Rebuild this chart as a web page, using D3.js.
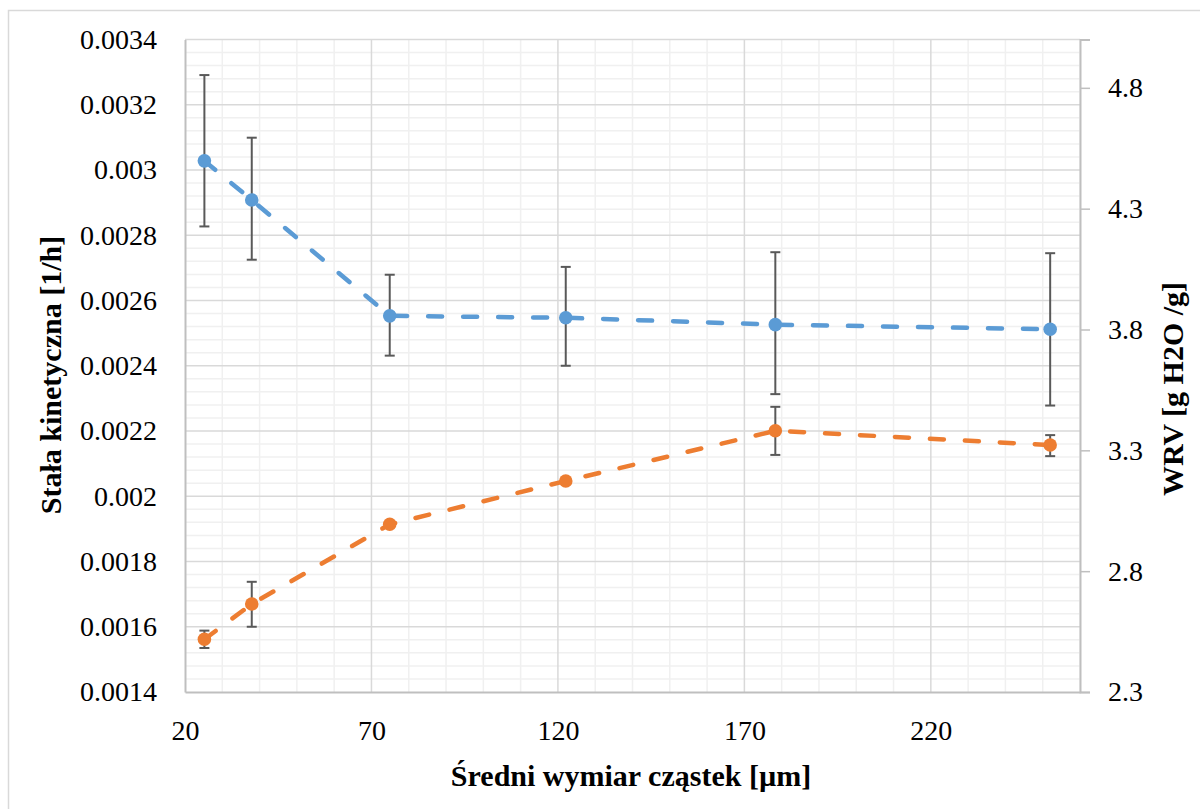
<!DOCTYPE html>
<html>
<head>
<meta charset="utf-8">
<script src="https://cdn.jsdelivr.net/npm/d3@7"></script>
<style>
    body { margin: 0; background: #fff; }
</style>
</head>
<body>
<div id="vis"></div>
<script>

// particle size [um]
const sizes = [25.2, 37.9, 74.9, 122.1, 178.3, 252];

// kinetic constant (left axis), with error bar ends
const kinetic = [0.003028, 0.002908, 0.002553, 0.002547, 0.002526, 0.002512];
const kineticHigh = [0.003291, 0.003099, 0.002679, 0.002703, 0.002748, 0.002745];
const kineticLow = [0.002827, 0.002725, 0.002431, 0.0024, 0.002313, 0.002278];

// WRV (right axis), with error bar ends (none on 3rd and 4th point)
const wrv = [2.518, 2.664, 2.994, 3.173, 3.381, 3.322];
const wrvHigh = [2.554, 2.756, null, null, 3.48, 3.363];
const wrvLow = [2.482, 2.57, null, null, 3.281, 3.276];

const xTicks = [20, 70, 120, 170, 220];
const yLeftTicks = [0.0014, 0.0016, 0.0018, 0.002, 0.0022, 0.0024, 0.0026, 0.0028, 0.003, 0.0032, 0.0034];
const yRightTicks = [2.3, 2.8, 3.3, 3.8, 4.3, 4.8];

const xTitle = 'Średni wymiar cząstek [µm]';
const yLeftTitle = 'Stała kinetyczna [1/h]';
const yRightTitle = 'WRV [g H2O /g]';

const serif = "'Liberation Serif', 'Times New Roman', serif";

let margin = {top: 39.5, right: 120, bottom: 117, left: 185};
let width = 1200 - margin.left - margin.right,
    height = 809 - margin.top - margin.bottom;

let svg = d3.select('#vis')
    .append('svg')
    .attr('width', 1200)
    .attr('height', 809);

// chart frame
svg.append('rect')
    .attr('x', 8.5)
    .attr('y', 10.5)
    .attr('width', 1200)
    .attr('height', 820)
    .attr('fill', 'none')
    .attr('stroke', '#d9d9d9')
    .attr('stroke-width', 1.5);

let g = svg.append('g')
    .attr('transform', 'translate(' + margin.left + ',' + margin.top + ')');

// Scaling
let xScale = d3.scaleLinear().domain([20, 260]).range([0, width]);
let yLeft = d3.scaleLinear().domain([0.0014, 0.0034]).range([height, 0]);
let yRight = d3.scaleLinear().domain([2.3, 5.0]).range([height, 0]);

// minor grid
let xMinor = d3.range(20, 261, 10).filter(v => (v - 20) % 50 !== 0);
let yMinor = d3.range(0, 51).map(i => 0.0014 + i * 0.00004).filter((v, i) => i % 5 !== 0);

g.append('g').selectAll('line')
    .data(xMinor)
    .enter().append('line')
    .attr('x1', d => xScale(d)).attr('x2', d => xScale(d))
    .attr('y1', 0).attr('y2', height)
    .attr('stroke', '#f0f0f0').attr('stroke-width', 1.5);

g.append('g').selectAll('line')
    .data(yMinor)
    .enter().append('line')
    .attr('x1', 0).attr('x2', width)
    .attr('y1', d => yLeft(d)).attr('y2', d => yLeft(d))
    .attr('stroke', '#f0f0f0').attr('stroke-width', 1.5);

// major grid
g.append('g').selectAll('line')
    .data(xTicks.slice(1))
    .enter().append('line')
    .attr('x1', d => xScale(d)).attr('x2', d => xScale(d))
    .attr('y1', 0).attr('y2', height)
    .attr('stroke', '#d9d9d9').attr('stroke-width', 1.5);

g.append('g').selectAll('line')
    .data(yLeftTicks.slice(1))
    .enter().append('line')
    .attr('x1', 0).attr('x2', width)
    .attr('y1', d => yLeft(d)).attr('y2', d => yLeft(d))
    .attr('stroke', '#d9d9d9').attr('stroke-width', 1.5);

// Axis
let xAxis = g.append('g')
    .attr('transform', 'translate(0,' + height + ')')
    .call(d3.axisBottom(xScale).tickValues(xTicks).tickSize(0).tickPadding(28).tickFormat(d3.format('d')));

let leftAxis = g.append('g')
    .call(d3.axisLeft(yLeft).tickValues(yLeftTicks).tickSize(0).tickPadding(28).tickFormat(d => +d.toFixed(4) + ''));

let rightAxis = g.append('g')
    .attr('transform', 'translate(' + width + ',0)')
    .call(d3.axisRight(yRight).tickValues(yRightTicks).tickSize(10).tickPadding(18).tickFormat(d3.format('.1f')));

[xAxis, leftAxis, rightAxis].forEach(a => {
    a.attr('font-family', null).attr('font-size', null);
    a.select('.domain').attr('stroke', '#bfbfbf').attr('stroke-width', 2);
    a.selectAll('.tick line').attr('stroke', '#bfbfbf').attr('stroke-width', 1.5);
    a.selectAll('.tick text')
        .style('font-family', serif)
        .style('font-size', '28px')
        .attr('fill', '#000');
});

// Error bars
function errorBars(high, low, yScale) {
    let idx = sizes.map((s, i) => i).filter(i => high[i] !== null);
    let eg = g.append('g').attr('class', 'errors');
    eg.selectAll('line.v')
        .data(idx).enter().append('line')
        .attr('x1', i => xScale(sizes[i])).attr('x2', i => xScale(sizes[i]))
        .attr('y1', i => yScale(high[i])).attr('y2', i => yScale(low[i]))
        .attr('stroke', '#595959').attr('stroke-width', 2);
    [high, low].forEach(arr => {
        eg.selectAll(null)
            .data(idx).enter().append('line')
            .attr('x1', i => xScale(sizes[i]) - 5).attr('x2', i => xScale(sizes[i]) + 5)
            .attr('y1', i => yScale(arr[i])).attr('y2', i => yScale(arr[i]))
            .attr('stroke', '#595959').attr('stroke-width', 2);
    });
}

errorBars(kineticHigh, kineticLow, yLeft);
errorBars(wrvHigh, wrvLow, yRight);

// Series
function series(values, yScale, color) {
    let line = d3.line()
        .x((d, i) => xScale(sizes[i]))
        .y(d => yScale(d));
    g.append('path')
        .datum(values)
        .attr('d', line)
        .attr('fill', 'none')
        .attr('stroke', color)
        .attr('stroke-width', 4.5)
        .attr('stroke-dasharray', '14,21')
        .attr('stroke-linecap', 'round');
    g.append('g').selectAll('circle')
        .data(values).enter().append('circle')
        .attr('cx', (d, i) => xScale(sizes[i]))
        .attr('cy', d => yScale(d))
        .attr('r', 6.8)
        .attr('fill', color);
}

series(kinetic, yLeft, '#5b9bd5');
series(wrv, yRight, '#ed7d31');

// Titles, font size fitted to the length seen in the original
function title(txt, transform, targetLen) {
    let t = svg.append('text')
        .attr('transform', transform)
        .attr('text-anchor', 'middle')
        .style('font-family', serif)
        .style('font-size', '24px')
        .style('font-weight', 'bold')
        .attr('fill', '#000')
        .text(txt);
    let len = t.node().getComputedTextLength();
    let size = Math.max(18, Math.min(30, 24 * targetLen / len));
    t.style('font-size', size.toFixed(1) + 'px');
}

title(xTitle, 'translate(631,786)', 370);
title(yLeftTitle, 'translate(61,375) rotate(-90)', 312);
title(yRightTitle, 'translate(1183,389) rotate(-90)', 276);

</script>
</body>
</html>
